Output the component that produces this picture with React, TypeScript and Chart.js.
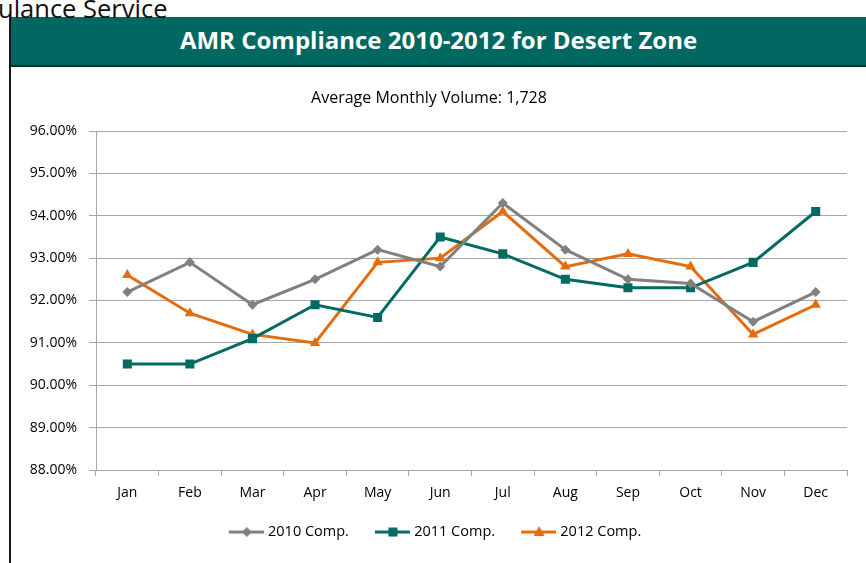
import React, { useEffect, useRef } from 'react';
import { Chart, registerables } from 'chart.js';

Chart.register(...registerables);

const months = ['Jan', 'Feb', 'Mar', 'Apr', 'May', 'Jun', 'Jul', 'Aug', 'Sep', 'Oct', 'Nov', 'Dec'];
const comp2010 = [92.2, 92.9, 91.9, 92.5, 93.2, 92.8, 94.3, 93.2, 92.5, 92.4, 91.5, 92.2];
const comp2011 = [90.5, 90.5, 91.1, 91.9, 91.6, 93.5, 93.1, 92.5, 92.3, 92.3, 92.9, 94.1];
const comp2012 = [92.6, 91.7, 91.2, 91.0, 92.9, 93.0, 94.1, 92.8, 93.1, 92.8, 91.2, 91.9];
const seriesNames = ['2010 Comp.', '2011 Comp.', '2012 Comp.'];
const yMin = 88;
const yMax = 96;
const yStep = 1;

const headerTitle = 'AMR Compliance 2010-2012 for Desert Zone';
const subTitle = 'Average Monthly Volume: 1,728';
const cutText = 'ulance Service';

const GRAY = '#808080';
const TEAL = '#006B63';
const ORANGE = '#E46C0A';
const GRID = '#A6A6A6';
const FONT = "'Open Sans', 'Liberation Sans', Arial, sans-serif";

const BOXW = 44;
const LEG_PAD = 14;

function legendIcon(color: string, shape: string): HTMLCanvasElement {
  const W = BOXW + 6;
  const c = document.createElement('canvas');
  c.width = W;
  c.height = 14;
  const ctx = c.getContext('2d')!;
  ctx.strokeStyle = color;
  ctx.fillStyle = color;
  ctx.lineWidth = 3;
  ctx.beginPath();
  ctx.moveTo(W - 35, 7);
  ctx.lineTo(W, 7);
  ctx.stroke();
  const cx = W - 17;
  const cy = 7;
  ctx.beginPath();
  if (shape === 'diamond') {
    ctx.moveTo(cx, cy - 5);
    ctx.lineTo(cx + 5, cy);
    ctx.lineTo(cx, cy + 5);
    ctx.lineTo(cx - 5, cy);
  } else if (shape === 'square') {
    ctx.rect(cx - 4.5, cy - 4.5, 9, 9);
  } else {
    ctx.moveTo(cx, cy - 6);
    ctx.lineTo(cx + 5.5, cy + 4);
    ctx.lineTo(cx - 5.5, cy + 4);
  }
  ctx.closePath();
  ctx.fill();
  return c;
}

export default function App() {
  const canvasRef = useRef<HTMLCanvasElement | null>(null);

  useEffect(() => {
    if (!canvasRef.current) return;
    const icons = [legendIcon(GRAY, 'diamond'), legendIcon(TEAL, 'square'), legendIcon(ORANGE, 'triangle')];
    const chart = new Chart(canvasRef.current, {
      type: 'line',
      data: {
        labels: months,
        datasets: [
          {
            label: seriesNames[0],
            data: comp2010,
            borderColor: GRAY,
            backgroundColor: GRAY,
            borderWidth: 3,
            pointStyle: 'rectRot',
            pointRadius: 5,
            pointBorderWidth: 0,
            tension: 0,
          },
          {
            label: seriesNames[1],
            data: comp2011,
            borderColor: TEAL,
            backgroundColor: TEAL,
            borderWidth: 3,
            pointStyle: 'rect',
            pointRadius: 6.4,
            pointBorderWidth: 0,
            tension: 0,
          },
          {
            label: seriesNames[2],
            data: comp2012,
            borderColor: ORANGE,
            backgroundColor: ORANGE,
            borderWidth: 3,
            pointStyle: 'triangle',
            pointRadius: 6,
            pointBorderWidth: 0,
            tension: 0,
          },
        ],
      },
      options: {
        animation: false,
        responsive: false,
        maintainAspectRatio: false,
        layout: { padding: { left: 0, right: 19, top: 0, bottom: 13.7 } },
        plugins: {
          tooltip: { enabled: false },
          title: {
            display: true,
            text: subTitle,
            color: '#000',
            font: { family: FONT, size: 16, weight: 'normal' },
            padding: { top: 20.4, bottom: 23.4 },
          },
          legend: {
            display: true,
            position: 'bottom',
            labels: {
              color: '#000',
              font: { family: FONT, size: 14.5 },
              usePointStyle: true,
              pointStyleWidth: BOXW,
              boxHeight: 14,
              padding: LEG_PAD,
              generateLabels: (ch: any) => {
                const base = Chart.defaults.plugins.legend.labels.generateLabels(ch);
                return base.map((l: any, i: number) => ({ ...l, pointStyle: icons[i] }));
              },
            },
          },
        },
        scales: {
          x: {
            type: 'category',
            offset: true,
            grid: {
              offset: true,
              drawOnChartArea: false,
              drawTicks: true,
              tickLength: 6,
              color: GRID,
            },
            border: { display: true, color: GRID, width: 1 },
            ticks: {
              color: '#000',
              padding: 9,
              font: { family: FONT, size: 14 },
              maxRotation: 0,
              autoSkip: false,
            },
          },
          y: {
            min: yMin,
            max: yMax,
            afterFit: (s: any) => {
              s.width = 85;
            },
            grid: {
              color: GRID,
              drawTicks: true,
              tickLength: 7,
            },
            border: { display: true, color: GRID, width: 1 },
            ticks: {
              stepSize: yStep,
              color: '#000',
              padding: 12,
              font: { family: FONT, size: 14 },
              callback: (v: any) => Number(v).toFixed(2) + '%',
            },
          },
        },
      },
    } as any);
    return () => chart.destroy();
  }, []);

  return (
    <div
      style={{
        position: 'fixed',
        left: 0,
        top: 0,
        width: 866,
        height: 563,
        background: '#fff',
        overflow: 'hidden',
      }}
    >
      <div
        style={{
          position: 'absolute',
          left: 11,
          top: 17,
          width: 855,
          height: 48,
          background: '#006860',
          borderBottom: '2px solid #0a2a28',
          color: '#fff',
          fontFamily: "'Open Sans', sans-serif",
          fontWeight: 700,
          fontSize: 24,
          lineHeight: '45px',
          textAlign: 'center',
          boxSizing: 'content-box',
        }}
      >
        <span style={{ position: 'relative', left: 0 }}>{headerTitle}</span>
      </div>
      <div
        style={{
          position: 'absolute',
          left: 9,
          top: 16,
          width: 2,
          height: 560,
          background: '#1a1a1a',
        }}
      />
      <div
        style={{
          position: 'absolute',
          left: -2,
          top: -4,
          fontFamily: "'Open Sans', sans-serif",
          fontSize: 25.5,
          lineHeight: '24px',
          color: '#111',
          whiteSpace: 'nowrap',
        }}
      >
        {cutText}
      </div>
      <canvas
        ref={canvasRef}
        width={855}
        height={495}
        style={{ position: 'absolute', left: 11, top: 68, width: 855, height: 495 }}
      />
    </div>
  );
}
